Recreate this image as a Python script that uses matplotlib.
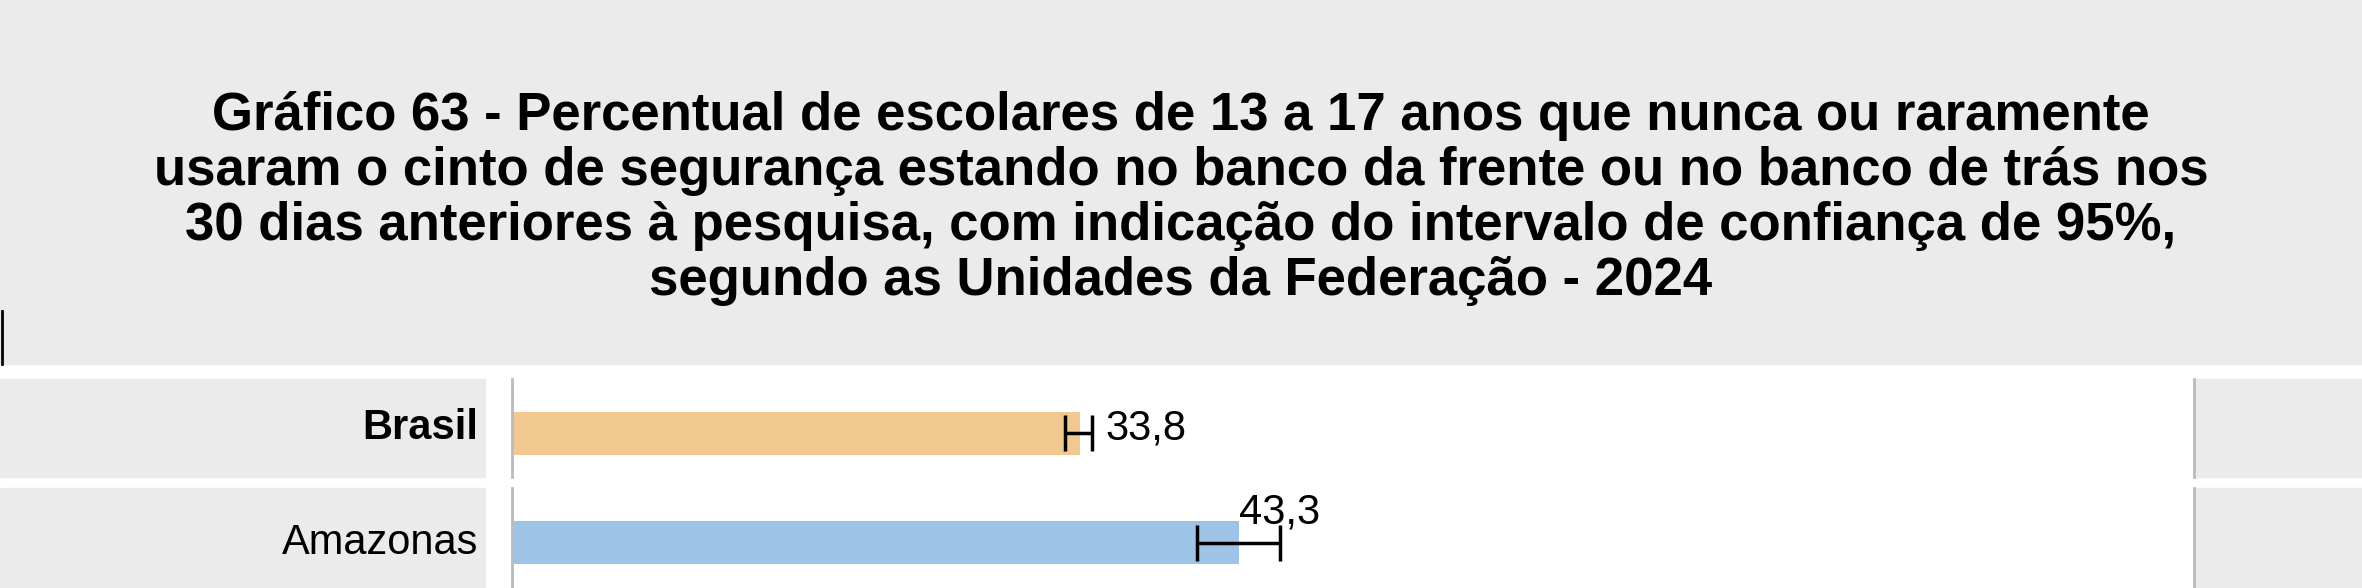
import matplotlib

matplotlib.use("Agg")

import matplotlib.pyplot as plt
from matplotlib.patches import Rectangle
from matplotlib.lines import Line2D

TITLE = ("Gráfico 63 - Percentual de escolares de 13 a 17 anos que nunca ou raramente\n"
         "usaram o cinto de segurança estando no banco da frente ou no banco de trás nos\n"
         "30 dias anteriores à pesquisa, com indicação do intervalo de confiança de 95%,\n"
         "segundo as Unidades da Federação - 2024")
regions = ["Brasil", "Amazonas"]
values = [33.8, 43.3]
ci_low = [32.9, 40.8]
ci_high = [34.5, 45.7]
value_labels = ["33,8", "43,3"]
colors = ["#F2C891", "#9DC3E6"]

W, H = 1560.0, 388.0  # layout units (reference scaled down)
GREY = "#EBEBEB"
plt.rcParams["font.family"] = ["Liberation Sans", "DejaVu Sans"]

fig = plt.figure(figsize=(23.62, 5.88), dpi=100)


def rect(x0, y0, x1, y1, color):
    fig.patches.append(Rectangle((x0 / W, 1 - y1 / H), (x1 - x0) / W, (y1 - y0) / H,
                                 transform=fig.transFigure, color=color, zorder=0))


def vline(x, y0, y1, color, lw):
    fig.lines.append(Line2D([x / W, x / W], [1 - y0 / H, 1 - y1 / H],
                            transform=fig.transFigure, color=color, lw=lw))


# header
rect(0, 0, W, 240, GREY)
fig.text(780 / W, 1 - 131 / H, TITLE, ha="center", va="center", fontsize=38,
         fontweight="bold", linespacing=1.13)
vline(1, 205, 240, "black", 2)

row_tops = [250, 322]
row_bottoms = [315, 390]
for top, bottom in zip(row_tops, row_bottoms):
    rect(0, top, 320, bottom, GREY)
    rect(1450, top, W, bottom, GREY)
    vline(338, top, bottom, "#BBBBBB", 2)
    vline(1449, top, bottom, "#BBBBBB", 2)

ax = fig.add_axes([338 / W, 0, (1448 - 338) / W, 1 - 250 / H])
ax.set_xlim(0, 100)
ax.set_ylim(388, 250)
ax.axis("off")
centers = [286, 358]
for i, name in enumerate(regions):
    ax.barh(centers[i], values[i], height=28, color=colors[i])
    ax.errorbar(values[i], centers[i],
                xerr=[[values[i] - ci_low[i]], [ci_high[i] - values[i]]],
                fmt="none", ecolor="black", elinewidth=2.5, capsize=13, capthick=2.5)
    fig.text(316 / W, 1 - centers[i] / H + (0.01 if i == 0 else 0.0), name,
             ha="right", va="center", fontsize=30,
             fontweight="bold" if i == 0 else "normal")
    if i == 0:
        ax.text(ci_high[i] + 0.8, centers[i] - 3, value_labels[i], ha="left",
                va="center", fontsize=30)
    else:
        ax.text(ci_high[i], centers[i] - 20, value_labels[i], ha="center",
                va="center", fontsize=30)

fig.savefig("out.png", dpi=100)
